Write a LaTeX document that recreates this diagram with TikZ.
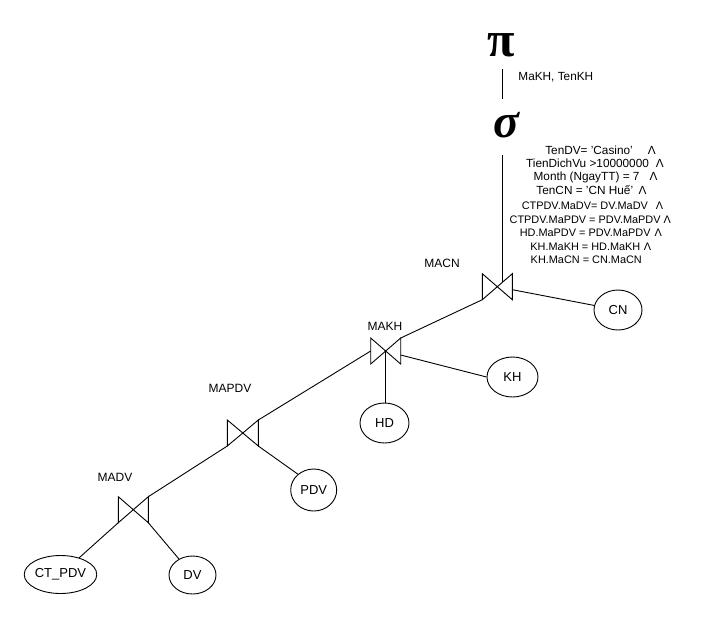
\documentclass[tikz,border=0pt]{standalone}
\usepackage{fontspec}
\setmainfont{Liberation Sans}
\newfontfamily\greekserif{Liberation Serif}
\usetikzlibrary{shapes.geometric,calc}
\begin{document}
\begin{tikzpicture}[x=1pt,y=-1pt,line width=0.9pt,
  lbl/.style={inner sep=0pt,font=\fontsize{12}{13}\selectfont},
  condA/.style={inner sep=0pt,font=\fontsize{11.8}{13}\selectfont},
  condB/.style={inner sep=0pt,font=\fontsize{10.9}{13}\selectfont},
  rel/.style={draw,ellipse,inner sep=0pt,font=\fontsize{13}{14}\selectfont},
  joinbox/.style={minimum width=30pt,minimum height=26pt,inner sep=0pt,outer sep=0pt},
  grk/.style={inner sep=0pt,font=\greekserif\fontsize{48}{48}\selectfont}]
\fill[white] (0,0) rectangle (712,625);
\useasboundingbox (0,0) rectangle (712,625);

% projection and selection symbols
\node[grk,font=\greekserif\bfseries\fontsize{50}{50}\selectfont] (pi) at (501.5,45) {π};
\node[grk,font=\greekserif\bfseries\itshape\fontsize{48}{48}\selectfont] (sigma) at (506.5,125) {σ};
\node[lbl,font=\fontsize{11.8}{13}\selectfont,anchor=west] (proj) at (518,77) {MaKH, TenKH};

% selection conditions
\node[condA] (c1) at (600.5,150) {TenDV= 'Casino'\hspace{15pt}Λ};
\node[condA] (c2) at (595,163.5) {TienDichVu >10000000\hspace{7pt}Λ};
\node[condA] (c3) at (595.5,177) {Month (NgayTT) = 7\hspace{10pt}Λ};
\node[condA] (c4) at (591.5,190.5) {TenCN = 'CN Huế'\hspace{5.5pt}Λ};
\node[condB] (c5) at (592.5,206) {CTPDV.MaDV= DV.MaDV\hspace{8pt}Λ};
\node[condB] (c6) at (590.3,219.5) {CTPDV.MaPDV = PDV.MaPDV\hspace{3pt}Λ};
\node[condB] (c7) at (590.8,233) {HD.MaPDV = PDV.MaPDV\hspace{4pt}Λ};
\node[condB] (c8) at (590.8,246.5) {KH.MaKH = HD.MaKH\hspace{3.5pt}Λ};
\node[condB] (c9) at (586.3,260) {KH.MaCN = CN.MaCN};

% join symbols
\node[joinbox] (macn) at (497.3,286.7) {};
\node[joinbox] (makh) at (385.7,351) {};
\node[joinbox,minimum width=31pt] (mapdv) at (242.8,433) {};
\node[joinbox] (madv) at (133.3,509.7) {};
\foreach \j in {macn,makh,mapdv,madv}
  \draw (\j.north west) -- (\j.south west) -- (\j.north east) -- (\j.south east) -- cycle;

% join labels
\node[lbl] (lmacn) at (442,263) {MACN};
\node[lbl] (lmakh) at (385,326) {MAKH};
\node[lbl] (lmapdv) at (230,388) {MAPDV};
\node[lbl] (lmadv) at (115,477) {MADV};

% relations
\node[rel,minimum width=48pt,minimum height=40pt] (cn) at (618,310) {CN};
\node[rel,minimum width=51pt,minimum height=40pt] (kh) at (512.5,377) {KH};
\node[rel,minimum width=49pt,minimum height=40pt] (hd) at (384.5,423) {HD};
\node[rel,minimum width=46pt,minimum height=42pt] (pdv) at (313.7,490) {PDV};
\node[rel,minimum width=62pt,minimum height=38pt] (ctpdv) at (60.5,574.5) {CT\_PDV};
\node[rel,minimum width=47pt,minimum height=38pt] (dv) at (192.5,575) {DV};

% connectors
\coordinate (mt) at ($(macn.south west)!0.667!(macn.north east)$);
\draw ($(pi.south)+(0.5,12)$) -- ($(pi.south |- sigma.north)+(0.5,-13)$);
\draw ($(mt |- sigma.south)+(0,17)$) -- (mt);
\draw (macn.south west) -- (makh.north east);
\draw ($(macn.east)+(0,3)$) -- (cn);
\draw ($(makh.east)+(0,4)$) -- (kh.west);
\draw (makh.center) -- (makh.center |- hd.north);
\draw (mapdv.north east) -- (makh.west);
\draw (mapdv.south east) -- (pdv.135);
\draw (mapdv.south west) -- (madv.north east);
\draw (madv.south west) -- (ctpdv);
\draw (madv.south east) -- (dv);
\end{tikzpicture}
\end{document}
